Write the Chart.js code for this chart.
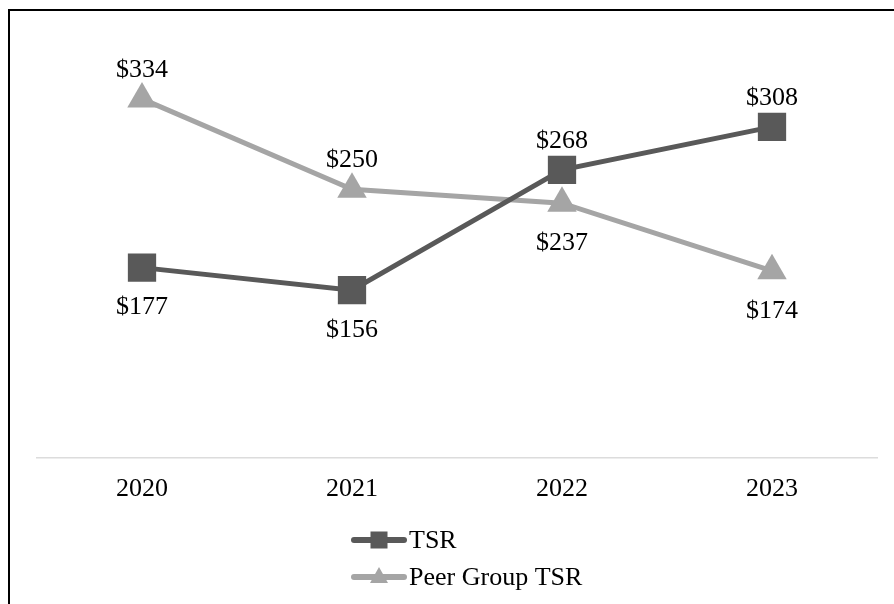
<!DOCTYPE html>
<html lang="en">
<head>
    <meta charset="UTF-8">
    <title>TSR vs Peer Group TSR</title>
    <script src="https://cdn.jsdelivr.net/npm/chart.js"></script>
    <style>
        body {
            margin: 0;
            padding: 0;
            background: #fff;
            overflow: hidden;
        }
        .frame {
            position: absolute;
            left: 8px;
            top: 9px;
            width: 1000px;
            height: 1000px;
            border: 2px solid #000;
        }
        .chart-box {
            position: absolute;
            left: 0;
            top: 0;
            width: 894px;
            height: 604px;
        }
    </style>
</head>
<body>
    <div class="frame"></div>
    <div class="chart-box">
        <canvas id="tsrChart"></canvas>
    </div>

    <script>
        const years = ['2020', '2021', '2022', '2023'];
        const tsrValues = [177, 156, 268, 308];
        const peerValues = [334, 250, 237, 174];

        const FONT = "'Liberation Serif', 'Times New Roman', serif";

        // value labels: above the point when this series is the higher one
        const valueLabels = {
            id: 'valueLabels',
            afterDatasetsDraw(chart) {
                const ctx = chart.ctx;
                const sets = chart.data.datasets;
                ctx.save();
                ctx.font = `26px ${FONT}`;
                ctx.fillStyle = '#000';
                ctx.textAlign = 'center';
                ctx.textBaseline = 'middle';
                sets.forEach((ds, i) => {
                    const other = sets[1 - i].data;
                    chart.getDatasetMeta(i).data.forEach((pt, j) => {
                        const above = ds.data[j] > other[j];
                        const y = above ? pt.y - 29 : pt.y + 40;
                        ctx.fillText('$' + ds.data[j], pt.x, y);
                    });
                });
                ctx.restore();
            }
        };

        // legend drawn as line + marker samples stacked under the axis
        const stackedLegend = {
            id: 'stackedLegend',
            afterDraw(chart) {
                const ctx = chart.ctx;
                const x0 = 354, x1 = 404;
                const rows = [540, 577];
                ctx.save();
                chart.data.datasets.forEach((ds, i) => {
                    const y = rows[i];
                    ctx.strokeStyle = ds.borderColor;
                    ctx.lineWidth = 6;
                    ctx.lineCap = 'round';
                    ctx.beginPath();
                    ctx.moveTo(x0, y);
                    ctx.lineTo(x1, y);
                    ctx.stroke();
                    ctx.fillStyle = ds.pointBackgroundColor;
                    const mx = (x0 + x1) / 2;
                    if (ds.pointStyle === 'rect') {
                        ctx.fillRect(mx - 8.5, y - 8.5, 17, 17);
                    } else {
                        ctx.beginPath();
                        ctx.moveTo(mx, y - 10);
                        ctx.lineTo(mx + 9, y + 6);
                        ctx.lineTo(mx - 9, y + 6);
                        ctx.closePath();
                        ctx.fill();
                    }
                    ctx.fillStyle = '#000';
                    ctx.font = `26px ${FONT}`;
                    ctx.textAlign = 'left';
                    ctx.textBaseline = 'middle';
                    ctx.fillText(ds.label, 409, y + 1);
                });
                ctx.restore();
            }
        };

        new Chart(document.getElementById('tsrChart'), {
            type: 'line',
            data: {
                labels: years,
                datasets: [
                    {
                        label: 'TSR',
                        data: tsrValues,
                        borderColor: '#595959',
                        backgroundColor: '#595959',
                        pointBackgroundColor: '#595959',
                        pointBorderWidth: 0,
                        borderWidth: 5,
                        pointStyle: 'rect',
                        pointRadius: 20,
                        pointHoverRadius: 20,
                        tension: 0
                    },
                    {
                        label: 'Peer Group TSR',
                        data: peerValues,
                        borderColor: '#a5a5a5',
                        backgroundColor: '#a5a5a5',
                        pointBackgroundColor: '#a5a5a5',
                        pointBorderWidth: 0,
                        borderWidth: 5,
                        pointStyle: 'triangle',
                        pointRadius: 17,
                        pointHoverRadius: 17,
                        tension: 0
                    }
                ]
            },
            options: {
                responsive: true,
                maintainAspectRatio: false,
                animation: false,
                layout: {
                    autoPadding: false,
                    padding: { left: 37, right: 17, top: 28, bottom: 83 }
                },
                plugins: {
                    legend: { display: false },
                    tooltip: { enabled: false }
                },
                scales: {
                    x: {
                        offset: true,
                        grid: { display: false, drawTicks: false },
                        border: { display: true, color: '#dcdcdc', width: 1.5 },
                        ticks: {
                            color: '#000',
                            padding: 16,
                            font: { family: FONT, size: 26 }
                        }
                    },
                    y: {
                        display: false,
                        min: 0,
                        max: 400
                    }
                }
            },
            plugins: [valueLabels, stackedLegend]
        });
    </script>
</body>
</html>
